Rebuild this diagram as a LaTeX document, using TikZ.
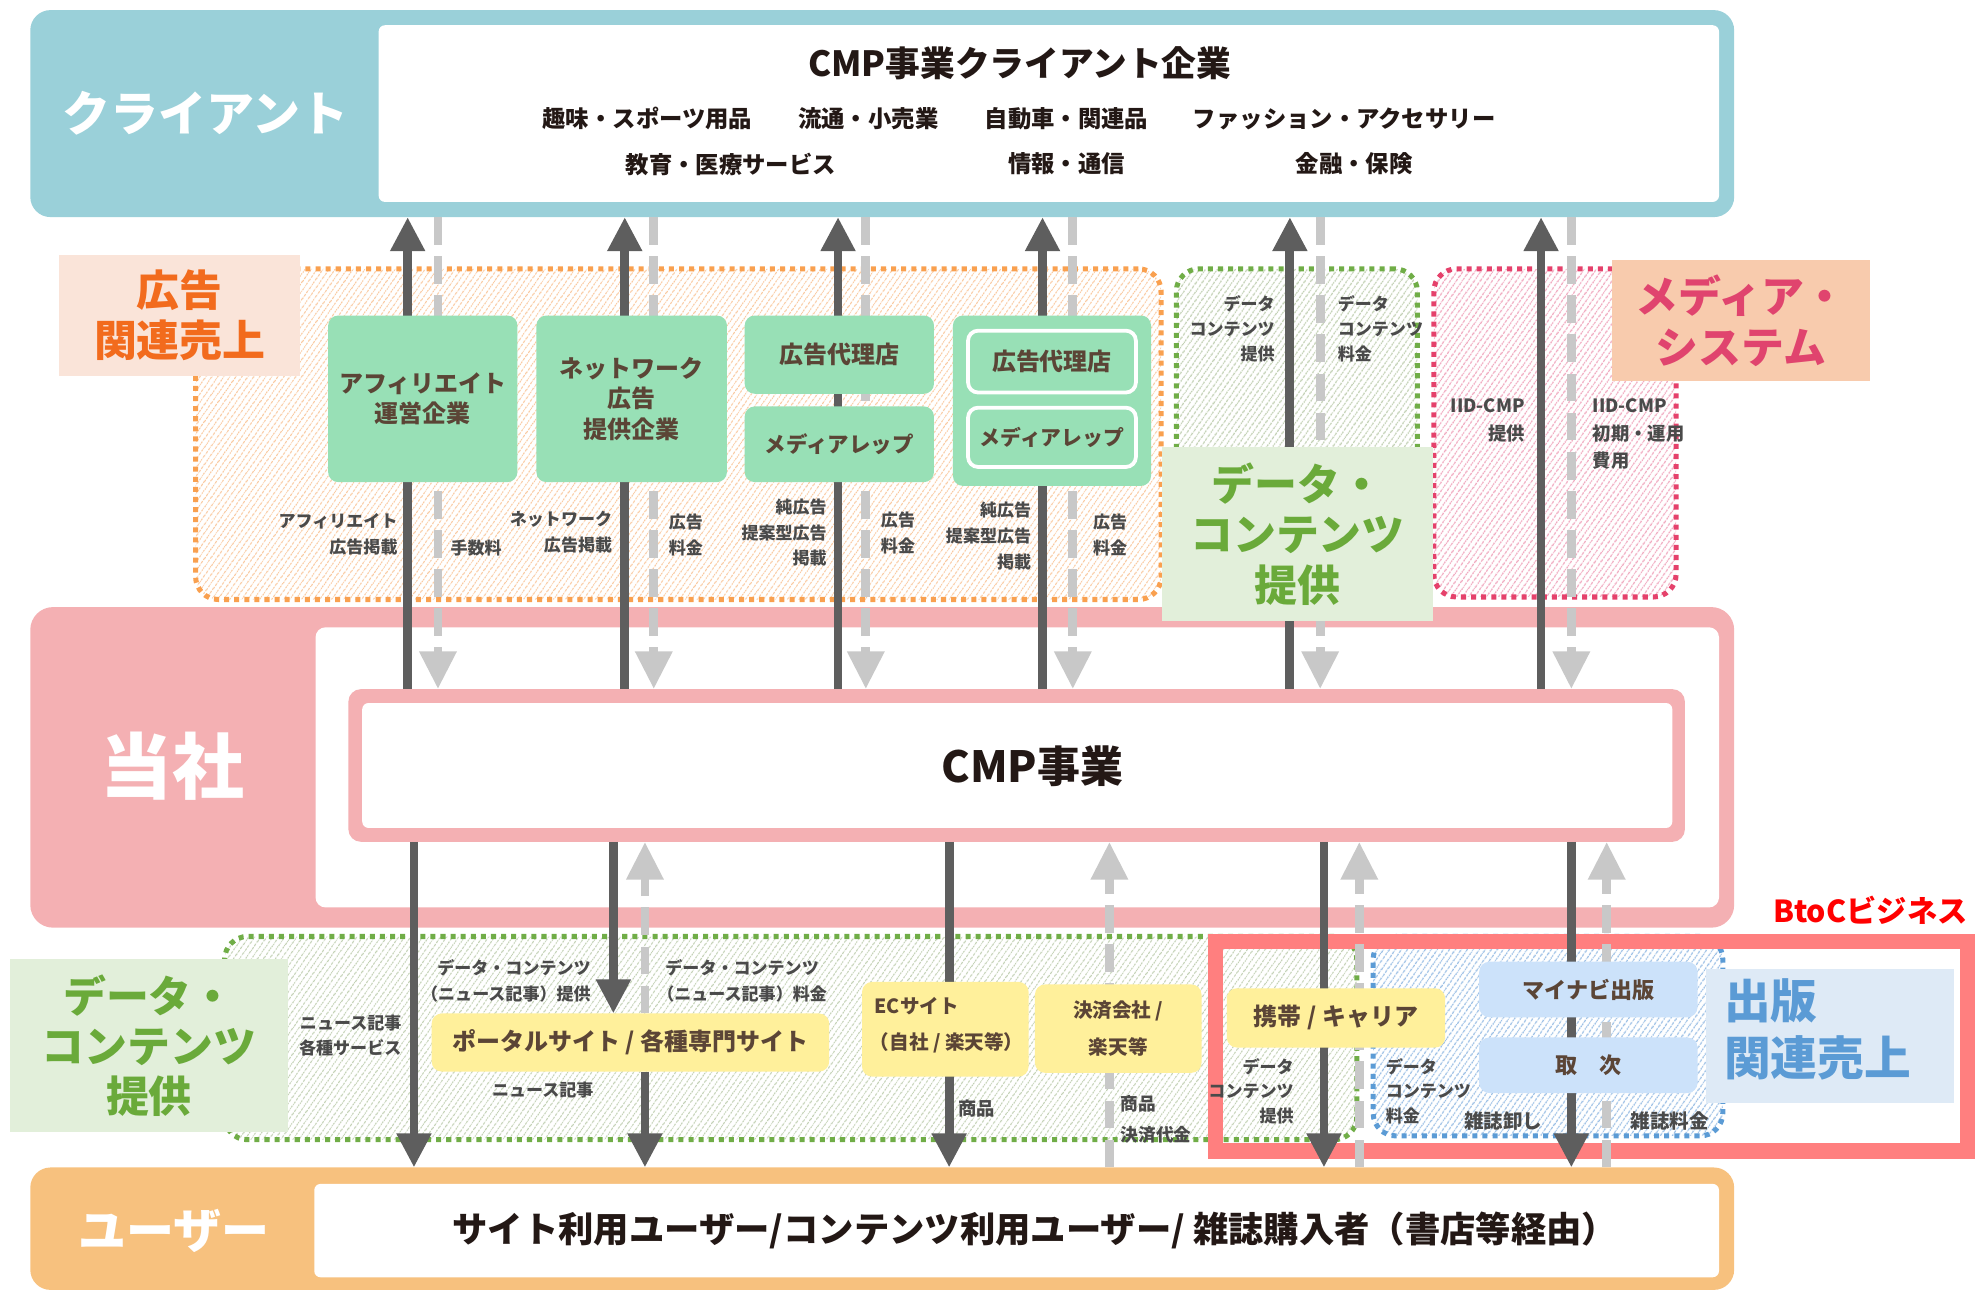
\documentclass[tikz,border=0pt]{standalone}
\usepackage{fontspec}
\setmainfont{Noto Sans CJK JP}
\usetikzlibrary{arrows.meta,patterns.meta}
\definecolor{cTeal}{HTML}{9AD0D9}
\definecolor{cPink}{HTML}{F4B0B3}
\definecolor{cUser}{HTML}{F7C17E}
\definecolor{cGreenBox}{HTML}{98E0B6}
\definecolor{cYellow}{HTML}{FFF09B}
\definecolor{cBlueBox}{HTML}{CCE2FA}
\definecolor{cInk}{HTML}{231815}
\definecolor{cBrown}{HTML}{5B4536}
\definecolor{cSmall}{HTML}{4A4A4A}
\definecolor{cDark}{HTML}{5E5E5E}
\definecolor{cGray}{HTML}{C8C8C8}
\definecolor{cRed}{HTML}{FF7F7F}
\definecolor{cOrangeDot}{HTML}{F9A04F}
\definecolor{cOrangeHatch}{HTML}{F9C9A0}
\definecolor{cGreenDot}{HTML}{70AD47}
\definecolor{cGreenHatch}{HTML}{C3D1B5}
\definecolor{cPinkDot}{HTML}{E5416B}
\definecolor{cPinkHatch}{HTML}{F0A9BF}
\definecolor{cBlueDot}{HTML}{5B9BD5}
\definecolor{cBlueHatch}{HTML}{9DC0E5}
\definecolor{cAdLbl}{HTML}{FAE4D9}
\definecolor{cAdTxt}{HTML}{F26B1D}
\definecolor{cDataLbl}{HTML}{E2EFDA}
\definecolor{cDataTxt}{HTML}{6AAA3A}
\definecolor{cMediaLbl}{HTML}{F8CBAD}
\definecolor{cMediaTxt}{HTML}{E0446E}
\definecolor{cPubLbl}{HTML}{DEEAF6}
\definecolor{cPubTxt}{HTML}{5B9BD5}
\tikzset{
  every node/.style={inner sep=0pt, outer sep=0pt},
  dots/.style={line width=4pt, dash pattern=on 4pt off 4pt},
  area/.style 2 args={draw=#1, dots, pattern={Lines[angle=55,distance=4pt,line width=1.1pt]}, pattern color=#2, rounded corners=18pt},
  solidarr/.style={draw=cDark, line width=7pt, -{Triangle[width=26pt,length=27pt]}},
  dasharr/.style={draw=cGray, line width=7pt, dash pattern=on 22pt off 9pt, -{Triangle[width=28pt,length=30pt]}},
  gbox/.style={fill=cGreenBox, rounded corners=8pt, text=cBrown, font=\fontsize{19}{24}\selectfont\bfseries, align=center},
  ybox/.style={fill=cYellow, rounded corners=8pt, text=cBrown, font=\fontsize{19}{24}\selectfont\bfseries, align=center},
  bbox/.style={fill=cBlueBox, rounded corners=8pt, text=cBrown, font=\fontsize{17.5}{22}\selectfont\bfseries, align=center},
  small/.style={text=cSmall, font=\fontsize{13.5}{20.5}\selectfont\bfseries},
  item/.style={text=cInk, font=\fontsize{18.5}{22}\selectfont\bfseries},
  biglbl/.style={font=\fontsize{34}{40}\selectfont\bfseries, align=center},
}
\begin{document}
\begin{tikzpicture}[x=1pt,y=-1pt]
\useasboundingbox (0,0) rectangle (1568,1025.25);

% ---------- client ----------
\node[fill=cTeal, rounded corners=16pt, minimum width=1350pt, minimum height=164pt] (clientbg) at (699,90) {};
\node[fill=white, rounded corners=5pt, minimum width=1062pt, minimum height=140pt] (client) at (831,90) {};
\node[text=white, font=\fontsize{38}{40}\selectfont\bfseries] (clientlbl) at (163,90) {クライアント};
\node[text=cInk, font=\fontsize{27.5}{32}\selectfont\bfseries] (title) at (808,50) {CMP事業クライアント企業};
\node[item] (i1) at (513,94) {趣味・スポーツ用品};
\node[item] (i2) at (688,94) {流通・小売業};
\node[item] (i3) at (845,94) {自動車・関連品};
\node[item] (i4) at (1065,94) {ファッション・アクセサリー};
\node[item] (i5) at (579,130) {教育・医療サービス};
\node[item] (i6) at (845,130) {情報・通信};
\node[item] (i7) at (1073,130) {金融・保険};

% ---------- company ----------
\node[fill=cPink, rounded corners=18pt, minimum width=1350pt, minimum height=254pt] (companybg) at (699,608) {};
\node[fill=white, rounded corners=8pt, minimum width=1112pt, minimum height=222pt] (company) at (806,608) {};
\node[text=white, font=\fontsize{57}{60}\selectfont\bfseries] (companylbl) at (137,607) {当社};
\node[fill=cPink, rounded corners=10pt, minimum width=1059pt, minimum height=121pt] (cmp) at (805.5,606.5) {};
\node[fill=white, rounded corners=5pt, minimum width=1038pt, minimum height=99pt] (cmpin) at (806,606.5) {};
\node[text=cInk, font=\fontsize{34}{38}\selectfont\bfseries] (cmptxt) at (818,607) {CMP事業};

% ---------- user ----------
\node[fill=cUser, rounded corners=16pt, minimum width=1350pt, minimum height=97pt] (userbg) at (699,973.5) {};
\node[fill=white, rounded corners=5pt, minimum width=1113pt, minimum height=74pt] (user) at (805.5,975) {};
\node[text=white, font=\fontsize{38}{40}\selectfont\bfseries] (userlbl) at (138,975) {ユーザー};
\node[text=cInk, font=\fontsize{28}{32}\selectfont\bfseries] (usertxt) at (820,975) {サイト利用ユーザー/コンテンツ利用ユーザー/ 雑誌購入者（書店等経由）};

% ---------- areas ----------
\node[area={cOrangeDot}{cOrangeHatch}, minimum width=765pt, minimum height=262pt] (adarea) at (537.5,344) {};
\node[area={cGreenDot}{cGreenHatch}, minimum width=191pt, minimum height=257pt] (dataarea) at (1027.5,341.5) {};
\node[area={cPinkDot}{cPinkHatch}, minimum width=192pt, minimum height=260pt] (mediaarea) at (1232,343) {};
\node[area={cGreenDot}{cGreenHatch}, minimum width=897pt, minimum height=161pt] (data2area) at (626.5,822.5) {};
\node[area={cBlueDot}{cBlueHatch}, minimum width=277pt, minimum height=158pt] (pubarea) at (1226.5,821) {};
\node[draw=cRed, line width=12pt, minimum width=596pt, minimum height=166pt] (btocframe) at (1261,829) {};

% portal box (arrows end on it)
\node[ybox, minimum width=315pt, minimum height=46pt] (portal) at (499.5,826) {ポータルサイト / 各種専門サイト};

% ---------- arrows ----------
\foreach \s/\d in {323/347,495/518,664/686,826/850,1022/1046,1221/1245}{
  \draw[solidarr] (\s,0 |- cmp.north) -- (\s,0 |- clientbg.south);
  \draw[dasharr] (\d,0 |- clientbg.south) -- (\d,0 |- cmp.north);
}
\draw[solidarr] (328,0 |- cmp.south) -- (328,0 |- userbg.north);
\draw[solidarr] (486,0 |- cmp.south) -- (486,0 |- portal.north);
\draw[solidarr] (511,0 |- portal.south) -- (511,0 |- userbg.north);
\draw[dasharr] (511,0 |- portal.north) -- (511,0 |- cmp.south);
\draw[solidarr] (752,0 |- cmp.south) -- (752,0 |- userbg.north);
\draw[dasharr] (879,0 |- userbg.north) -- (879,0 |- cmp.south);
\draw[solidarr] (1049,0 |- cmp.south) -- (1049,0 |- userbg.north);
\draw[dasharr] (1077,0 |- userbg.north) -- (1077,0 |- cmp.south);
\draw[solidarr] (1245,0 |- cmp.south) -- (1245,0 |- userbg.north);
\draw[dasharr] (1273,0 |- userbg.north) -- (1273,0 |- cmp.south);

% ---------- ad boxes ----------
\node[gbox, minimum width=150pt, minimum height=132pt] (aff) at (335,316) {アフィリエイト\\運営企業};
\node[gbox, minimum width=151pt, minimum height=132pt] (net) at (500.5,316) {ネットワーク\\広告\\提供企業};
\node[gbox, minimum width=150pt, minimum height=62pt] (agency1) at (665,281) {広告代理店};
\node[gbox, minimum width=150pt, minimum height=60pt, font=\fontsize{17}{22}\selectfont\bfseries] (rep1) at (665,352) {メディアレップ};
\node[gbox, minimum width=157pt, minimum height=135pt] (combo) at (833.5,317.5) {};
\node[gbox, draw=white, line width=3pt, minimum width=133pt, minimum height=49pt] (agency2) at (833.5,286.5) {広告代理店};
\node[gbox, draw=white, line width=3pt, minimum width=133pt, minimum height=47pt, font=\fontsize{16.5}{22}\selectfont\bfseries] (rep2) at (833.5,346.5) {メディアレップ};

\node[small, align=right, anchor=east] (l1) at (315,423.5) {アフィリエイト\\広告掲載};
\node[small, anchor=west] (l2) at (357,434) {手数料};
\node[small, align=right, anchor=east] (l3) at (485,421.5) {ネットワーク\\広告掲載};
\node[small, align=left, anchor=west] (l4) at (530,424) {広告\\料金};
\node[small, align=right, anchor=east] (l5) at (655,422) {純広告\\提案型広告\\掲載};
\node[small, align=left, anchor=west] (l6) at (698,422.5) {広告\\料金};
\node[small, align=right, anchor=east] (l7) at (817,424.5) {純広告\\提案型広告\\掲載};
\node[small, align=left, anchor=west] (l8) at (866,424) {広告\\料金};

\node[small, align=right, anchor=east, font=\fontsize{13.5}{19.5}\selectfont\bfseries] (d1) at (1010,260.5) {データ\\コンテンツ\\提供};
\node[small, align=left, anchor=west, font=\fontsize{13.5}{19.5}\selectfont\bfseries] (d2) at (1060,260.5) {データ\\コンテンツ\\料金};
\node[small, align=right, anchor=east, font=\fontsize{14.5}{22}\selectfont\bfseries] (m1) at (1208,333) {IID-CMP\\提供};
\node[small, align=left, anchor=west, font=\fontsize{14.5}{22}\selectfont\bfseries] (m2) at (1262,344) {IID-CMP\\初期・運用\\費用};

% ---------- bottom boxes ----------
\node[ybox, minimum width=132pt, minimum height=75pt] (ec) at (749,815.5) {};
\node[text=cBrown, font=\fontsize{15.5}{20}\selectfont\bfseries, anchor=west] (ec1) at (693,797) {ECサイト};
\node[text=cBrown, font=\fontsize{15.5}{20}\selectfont\bfseries] (ec2) at (750,826) {（自社 / 楽天等）};
\node[ybox, minimum width=132pt, minimum height=70pt, font=\fontsize{15.5}{29}\selectfont\bfseries] (pay) at (886,815) {決済会社 /\\楽天等};
\node[ybox, minimum width=173pt, minimum height=47pt] (carrier) at (1058.5,806.5) {携帯 / キャリア};
\node[bbox, minimum width=173pt, minimum height=44pt] (mynavi) at (1258.5,784) {マイナビ出版};
\node[bbox, minimum width=173pt, minimum height=44pt] (toritsugi) at (1258.5,844) {取\quad 次};

\node[small, align=right, anchor=east, font=\fontsize{13.5}{19.5}\selectfont\bfseries] (b1) at (318,820.5) {ニュース記事\\各種サービス};
\node[small, align=right, anchor=east] (b2) at (468,777) {データ・コンテンツ\\（ニュース記事）提供};
\node[small, align=center] (b3) at (588,777) {データ・コンテンツ\\（ニュース記事）料金};
\node[small] (b4) at (430,864) {ニュース記事};
\node[small, font=\fontsize{14.5}{20}\selectfont\bfseries] (b5) at (774,878) {商品};
\node[small, align=left, anchor=west, font=\fontsize{14}{24}\selectfont\bfseries] (b6) at (888,887) {商品\\決済代金};
\node[small, align=right, anchor=east, font=\fontsize{13.5}{19.5}\selectfont\bfseries] (b7) at (1025,864.5) {データ\\コンテンツ\\提供};
\node[small, align=left, anchor=west, font=\fontsize{13.5}{19.5}\selectfont\bfseries] (b8) at (1098,864.5) {データ\\コンテンツ\\料金};
\node[small, font=\fontsize{15.5}{20}\selectfont\bfseries] (b9) at (1191,888) {雑誌卸し};
\node[small, font=\fontsize{15.5}{20}\selectfont\bfseries] (b10) at (1323,888) {雑誌料金};

% ---------- category labels ----------
\node[fill=cAdLbl, biglbl, text=cAdTxt, minimum width=191pt, minimum height=96pt] (adlbl) at (142.5,250) {広告\\関連売上};
\node[fill=cDataLbl, biglbl, text=cDataTxt, minimum width=214pt, minimum height=138pt] (datalbl) at (1028,423) {データ・\\コンテンツ\\提供};
\node[fill=cMediaLbl, biglbl, text=cMediaTxt, minimum width=205pt, minimum height=96pt] (medialbl) at (1379.5,254) {メディア・\\システム};
\node[fill=cDataLbl, biglbl, text=cDataTxt, minimum width=220pt, minimum height=137pt] (data2lbl) at (118,828.5) {データ・\\コンテンツ\\提供};
\node[fill=cPubLbl, minimum width=196pt, minimum height=106pt] (publbl) at (1450,821) {};
\node[text=cPubTxt, font=\fontsize{37}{45}\selectfont\bfseries, align=left, anchor=west] (pubtxt) at (1366,815.5) {出版\\関連売上};
\node[text=red, font=\fontsize{24}{28}\selectfont\bfseries] (btoc) at (1482,721) {BtoCビジネス};
\end{tikzpicture}
\end{document}
